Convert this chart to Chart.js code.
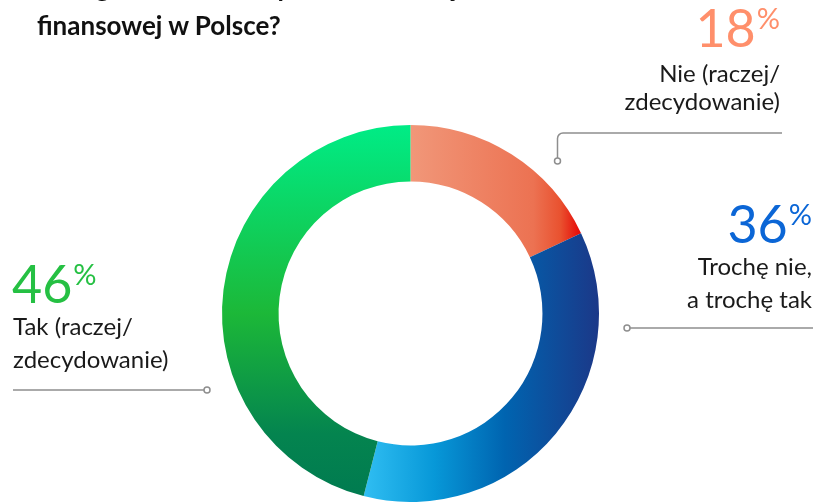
<!DOCTYPE html>
<html lang="pl">
<head>
<meta charset="utf-8">
<script src="https://cdn.jsdelivr.net/npm/chart.js@4.4.0/dist/chart.umd.min.js"></script>
<style>
  html, body { margin: 0; padding: 0; background: #fff; }
  body { width: 818px; height: 502px; overflow: hidden; position: relative; font-family: Lato, 'Open Sans', sans-serif; }
  #chart { position: absolute; left: 0; top: 0; }
  .t { position: absolute; white-space: nowrap; color: #1a1a1a; }
  .title { font-weight: 700; font-size: 26px; line-height: 26px; color: #111; }
  .pct { font-size: 52px; line-height: 52px; font-weight: 400; }
  .pct span { font-size: 29px; line-height: 29px; vertical-align: top; position: relative; top: 2px; margin-left: 1px; }
  .lbl { font-size: 24px; line-height: 24px; }
</style>
</head>
<body>
<canvas id="chart" width="818" height="502"></canvas>
<div id="texts"></div>
<script>
// data
const categories = ['Nie (raczej/zdecydowanie)', 'Trochę nie, a trochę tak', 'Tak (raczej/zdecydowanie)'];
const values = [18, 36, 46];
const labelLines = [
  ['Nie (raczej/', 'zdecydowanie)'],
  ['Trochę nie,', 'a trochę tak'],
  ['Tak (raczej/', 'zdecydowanie)']
];
const titleLines = ['Jak ogólnie oceniasz poziom edukacji', 'finansowej w Polsce?'];
const pctColors = ['#ff8f6b', '#0b66d6', '#25c043'];

// where each label block sits (baseline y values)
const layout = [
  { side: 'right', x: 780, pctBase: 47, lineBase: [82, 110] },
  { side: 'right', x: 812, pctBase: 243, lineBase: [275, 308] },
  { side: 'left', x: 12, pctBase: 303, lineBase: [335, 368] }
];

const texts = document.getElementById('texts');

function addText(cls, html, base, fs, side, x, color) {
  const d = document.createElement('div');
  d.className = 't ' + cls;
  d.innerHTML = html;
  d.style.top = (base - 0.887 * fs) + 'px';
  if (side === 'right') d.style.right = (818 - x) + 'px';
  else d.style.left = x + 'px';
  if (color) d.style.color = color;
  texts.appendChild(d);
}

addText('title', titleLines[0], -3, 26, 'left', 37);
addText('title', titleLines[1], 35, 26, 'left', 37);

values.forEach((v, i) => {
  const L = layout[i];
  addText('pct', v + '<span>%</span>', L.pctBase, 52, L.side, L.x, pctColors[i]);
  labelLines[i].forEach((line, j) => {
    addText('lbl', line, L.lineBase[j], 24, L.side, L.x + (L.side === 'left' ? 1 : 0));
  });
});

// gradients per slice
function sliceFill(context) {
  const chart = context.chart;
  const a = chart.chartArea;
  if (!a) return '#ccc';
  const cx = (a.left + a.right) / 2;
  const cy = (a.top + a.bottom) / 2;
  const r = Math.min(a.width, a.height) / 2;
  const total = values.reduce((s, v) => s + v, 0);
  const end0 = values[0] / total * Math.PI * 2;
  const end1 = (values[0] + values[1]) / total * Math.PI * 2;
  const c = chart.ctx;
  let g;
  if (context.dataIndex === 0) {
    g = c.createLinearGradient(cx, 0, cx + r * Math.sin(end0), 0);
    g.addColorStop(0, '#f19779');
    g.addColorStop(0.72, '#ec7252');
    g.addColorStop(0.88, '#e9512f');
    g.addColorStop(1, '#e60505');
  } else if (context.dataIndex === 1) {
    g = c.createLinearGradient(cx + r * Math.sin(end1), 0, cx + r, 0);
    g.addColorStop(0, '#30bef2');
    g.addColorStop(0.3, '#0798d8');
    g.addColorStop(0.6, '#0064b0');
    g.addColorStop(1, '#1b3888');
  } else {
    g = c.createLinearGradient(0, cy - r, 0, cy + r);
    g.addColorStop(0, '#00ec86');
    g.addColorStop(0.5, '#1cb838');
    g.addColorStop(0.82, '#04844f');
    g.addColorStop(1, '#007a50');
  }
  return g;
}

// leader lines with small circles at the ring end
const leaders = {
  id: 'leaders',
  afterDraw(chart) {
    const c = chart.ctx;
    c.save();
    c.strokeStyle = '#8e8e8e';
    c.lineWidth = 1.5;
    c.beginPath();
    c.moveTo(782, 133);
    c.lineTo(563, 133);
    c.arcTo(557.5, 133, 557.5, 139, 5.5);
    c.lineTo(557.5, 158);
    c.moveTo(630, 328);
    c.lineTo(813, 328);
    c.moveTo(13, 390);
    c.lineTo(204, 390);
    c.stroke();
    [[557.5, 161], [627, 328], [207, 390]].forEach(p => {
      c.beginPath();
      c.arc(p[0], p[1], 3, 0, Math.PI * 2);
      c.fillStyle = '#fff';
      c.fill();
      c.stroke();
    });
    c.restore();
  }
};

new Chart(document.getElementById('chart'), {
  type: 'doughnut',
  data: {
    labels: categories,
    datasets: [{
      data: values,
      backgroundColor: sliceFill,
      borderWidth: 0
    }]
  },
  options: {
    responsive: false,
    animation: false,
    cutout: '70%',
    layout: { padding: { left: 222, right: 219, top: 125, bottom: 0 } },
    plugins: {
      legend: { display: false },
      tooltip: { enabled: false }
    }
  },
  plugins: [leaders]
});
</script>
</body>
</html>
